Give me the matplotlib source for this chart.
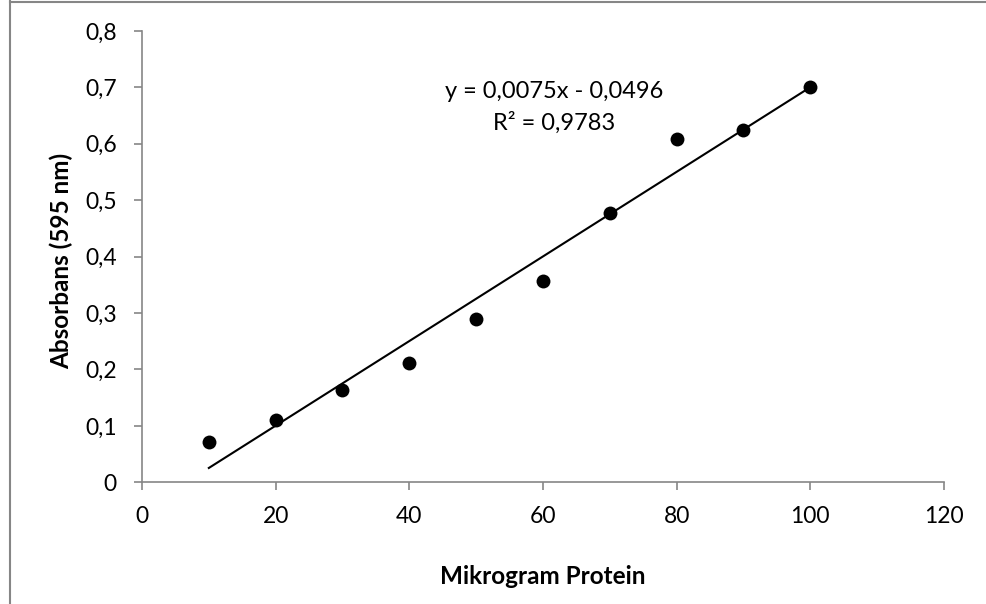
import matplotlib
matplotlib.use("Agg")
import matplotlib.pyplot as plt
from matplotlib.ticker import FuncFormatter, MultipleLocator
from matplotlib.lines import Line2D

plt.rcParams['font.family'] = ['Lato', 'DejaVu Sans']

protein = [10, 20, 30, 40, 50, 60, 70, 80, 90, 100]
absorbance = [0.071, 0.111, 0.164, 0.212, 0.290, 0.356, 0.477, 0.608, 0.624, 0.701]
slope = 0.0075
intercept = -0.0496
r2 = 0.9783
x_label = "Mikrogram Protein"
y_label = "Absorbans (595 nm)"

W, H = 987, 604
L, R, T, B = 142, 944, 31, 482.3
fig = plt.figure(figsize=(W / 100, H / 100), dpi=100)
ax = fig.add_axes([L / W, 1 - B / H, (R - L) / W, (B - T) / H])

ax.scatter(protein, absorbance, s=100, color='black', zorder=3, linewidths=0)
xs = [min(protein), max(protein)]
ax.plot(xs, [slope * x + intercept for x in xs], color='black', lw=1.5, zorder=2)

ax.set_xlim(0, 120)
ax.set_ylim(0, 0.8)
ax.xaxis.set_major_locator(MultipleLocator(20))
ax.yaxis.set_major_locator(MultipleLocator(0.1))

def comma_fmt(v, pos):
    s = f"{v:.1f}".rstrip('0').rstrip('.') if abs(v) > 1e-9 else "0"
    return s.replace('.', ',')

ax.yaxis.set_major_formatter(FuncFormatter(comma_fmt))
ax.xaxis.set_major_formatter(FuncFormatter(lambda v, p: f"{int(round(v))}"))

for side in ['top', 'right']:
    ax.spines[side].set_visible(False)
for side in ['left', 'bottom']:
    ax.spines[side].set_color('#868686')
    ax.spines[side].set_linewidth(1.2)
ax.tick_params(axis='both', direction='out', length=6, width=1.2, color='#868686',
               labelsize=16.5, labelcolor='black')
ax.tick_params(axis='y', pad=12)
ax.tick_params(axis='x', pad=11)

ax.set_xlabel(x_label, fontsize=17.5, fontweight='bold')
ax.set_ylabel(y_label, fontsize=17.5, fontweight='bold')
ax.xaxis.set_label_coords(0.5, (B - 576) / (B - T))
ax.yaxis.set_label_coords((61 - L) / (R - L), (B - 261) / (B - T))
ax.xaxis.label.set_va('center')
ax.yaxis.label.set_va('center')

eq = f"y = {slope:.4f}x - {abs(intercept):.4f}".replace('.', ',')
r2t = f"R² = {r2:.4f}".replace('.', ',')
ex = (554 - L) / (R - L) * 120
ax.text(ex, (B - 91.7) / (B - T) * 0.8, eq, ha='center', va='center', fontsize=17)
ax.text(ex, (B - 123) / (B - T) * 0.8, r2t, ha='center', va='center', fontsize=17)

# chart area border (left and top edges visible)
fig.add_artist(Line2D([9.5 / W, 9.5 / W], [0, 1 - 1 / H], transform=fig.transFigure,
                      color='#868686', lw=1.5))
fig.add_artist(Line2D([9.5 / W, 1], [1 - 1.5 / H, 1 - 1.5 / H], transform=fig.transFigure,
                      color='#868686', lw=1.5))

fig.savefig("out.png", dpi=100)
